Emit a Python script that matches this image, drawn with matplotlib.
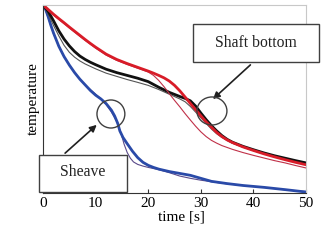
import matplotlib
matplotlib.use("Agg")
import matplotlib.pyplot as plt
from matplotlib.patches import Ellipse, Rectangle

plt.rcParams['font.family'] = ['Liberation Serif', 'DejaVu Serif']
plt.rcParams['font.size'] = 11

# shaft bottom, thick red (simulation) and thin red (measured)
red_t = [0, 1, 2, 3, 4, 5, 6, 7, 8, 9, 10, 12, 14, 16, 18, 20, 21, 22, 23, 24, 25, 26,
         27, 28, 29, 30, 31, 32, 33, 34, 35, 36, 38, 40, 42, 44, 46, 48, 50]
red_y = [1.0, 0.975, 0.95, 0.927, 0.905, 0.882, 0.86, 0.838, 0.816, 0.795, 0.775, 0.738,
         0.71, 0.688, 0.668, 0.648, 0.637, 0.625, 0.612, 0.595, 0.572, 0.543, 0.51, 0.476,
         0.443, 0.41, 0.378, 0.35, 0.322, 0.30, 0.282, 0.268, 0.245, 0.226, 0.208, 0.192,
         0.177, 0.163, 0.15]
red2_t = [0, 1, 2, 4, 6, 8, 10, 12, 14, 16, 18, 20, 21, 22, 23, 24, 25, 26, 27, 28, 29,
          30, 31, 32, 33, 34, 36, 38, 40, 42, 44, 46, 48, 50]
red2_y = [1.0, 0.97, 0.945, 0.9, 0.855, 0.811, 0.77, 0.733, 0.705, 0.683, 0.663, 0.643,
          0.625, 0.598, 0.565, 0.528, 0.492, 0.458, 0.422, 0.388, 0.355, 0.325, 0.30,
          0.28, 0.265, 0.252, 0.232, 0.215, 0.20, 0.186, 0.172, 0.16, 0.146, 0.133]

# shaft middle, thick black and thin grey
blk_t = [0, 1, 2, 3, 4, 5, 6, 7, 8, 9, 10, 12, 14, 16, 18, 20, 22, 24, 26, 27, 28, 29,
         30, 31, 32, 33, 34, 35, 36, 38, 40, 42, 44, 46, 48, 50]
blk_y = [1.0, 0.965, 0.915, 0.862, 0.818, 0.782, 0.752, 0.728, 0.71, 0.695, 0.682, 0.658,
         0.64, 0.625, 0.61, 0.592, 0.562, 0.535, 0.513, 0.503, 0.49, 0.462, 0.425, 0.39,
         0.358, 0.33, 0.305, 0.285, 0.27, 0.248, 0.23, 0.213, 0.198, 0.185, 0.172, 0.16]
gry_t = [0, 1, 2, 3, 4, 5, 6, 7, 8, 10, 12, 14, 16, 18, 20, 22, 24, 26, 27, 28, 29, 30,
         31, 32, 33, 34, 36, 38, 40, 44, 50]
gry_y = [1.0, 0.95, 0.89, 0.835, 0.785, 0.748, 0.722, 0.702, 0.686, 0.66, 0.637, 0.62,
         0.603, 0.588, 0.572, 0.55, 0.525, 0.50, 0.485, 0.46, 0.43, 0.40, 0.37, 0.34,
         0.315, 0.295, 0.265, 0.245, 0.228, 0.197, 0.16]

# sheave, thick blue and thin purple
blu_t = [0, 0.5, 1, 1.5, 2, 3, 4, 5, 6, 7, 8, 9, 10, 11, 12, 13, 13.6, 14.2, 14.6, 15.2,
         16, 17, 18, 19, 20, 21, 22, 24, 26, 28, 30, 32, 35, 38, 42, 46, 50]
blu_y = [1.0, 0.975, 0.935, 0.89, 0.85, 0.78, 0.725, 0.68, 0.64, 0.605, 0.575, 0.545,
         0.52, 0.50, 0.475, 0.44, 0.41, 0.37, 0.33, 0.295, 0.262, 0.222, 0.188, 0.163,
         0.147, 0.136, 0.127, 0.114, 0.104, 0.094, 0.078, 0.062, 0.05, 0.04, 0.03, 0.018,
         0.005]
pur_t = [0, 0.5, 1, 2, 3, 4, 5, 6, 7, 8, 9, 10, 11, 12, 13, 14, 14.8, 15.4, 16, 16.6,
         17.2, 18, 19, 20, 22, 24, 26, 28, 30, 34, 38, 42, 46, 50]
pur_y = [1.0, 0.97, 0.93, 0.845, 0.78, 0.725, 0.68, 0.64, 0.605, 0.575, 0.55, 0.525, 0.50,
         0.47, 0.43, 0.38, 0.32, 0.26, 0.215, 0.185, 0.165, 0.152, 0.143, 0.136, 0.124,
         0.108, 0.09, 0.078, 0.068, 0.052, 0.04, 0.03, 0.017, 0.008]

xticks = [0, 10, 20, 30, 40, 50]

fig = plt.figure(figsize=(3.26, 2.44), dpi=100)
ax = fig.add_axes([0.132, 0.209, 0.807, 0.771])

kw = dict(solid_joinstyle='round', solid_capstyle='round')
ax.plot(pur_t, pur_y, color='#5a4a8a', lw=0.8, **kw)
ax.plot(blu_t, blu_y, color='#2a4aa8', lw=2.0, **kw)
ax.plot(gry_t, gry_y, color='#555555', lw=0.8, **kw)
ax.plot(blk_t, blk_y, color='#111111', lw=2.0, **kw)
ax.plot(red2_t, red2_y, color='#c03048', lw=0.8, **kw)
ax.plot(red_t, red_y, color='#d81c28', lw=2.0, **kw)

ax.set_xlim(0, 50)
ax.set_ylim(0, 1)
ax.set_xticks(xticks)
ax.set_yticks([])
ax.tick_params(axis='x', direction='in', length=3, pad=3, color='#333333')

for s in ['top', 'right']:
    ax.spines[s].set_color('#c8c8c8')
    ax.spines[s].set_linewidth(0.8)
for s in ['left', 'bottom']:
    ax.spines[s].set_color('#333333')
    ax.spines[s].set_linewidth(0.8)

ax.set_xlabel('time [s]', va='center')
ax.xaxis.set_label_coords(0.525, -0.128)
ax.set_ylabel('temperature', va='center')
ax.yaxis.set_label_coords(-0.038, 0.5)

# circles
ax.add_patch(Ellipse((12.9, 0.42), 5.3, 0.149, fill=False, ec='#404040', lw=1, zorder=4))
ax.add_patch(Ellipse((32.1, 0.436), 5.7, 0.149, fill=False, ec='#404040', lw=1, zorder=4))

# arrows
ax.annotate('', xy=(31.9, 0.489), xytext=(39.8, 0.691),
            arrowprops=dict(arrowstyle='-|>', color='#202020', lw=1.2, mutation_scale=10))
ax.annotate('', xy=(10.6, 0.372), xytext=(3.8, 0.202),
            arrowprops=dict(arrowstyle='-|>', color='#202020', lw=1.2, mutation_scale=10))

# label boxes
ax.add_patch(Rectangle((28.5, 0.697), 23.9, 0.202, fc='white', ec='#404040', lw=1,
                       clip_on=False, zorder=5))
ax.text(40.45, 0.80, 'Shaft bottom', ha='center', va='center', fontsize=11.3, zorder=6,
        color='#222222')
ax.add_patch(Rectangle((-0.76, 0.005), 16.66, 0.197, fc='white', ec='#404040', lw=1,
                       clip_on=False, zorder=5))
ax.text(7.57, 0.11, 'Sheave', ha='center', va='center', fontsize=11.3, zorder=6,
        color='#222222')

fig.savefig('out.png', dpi=100)
